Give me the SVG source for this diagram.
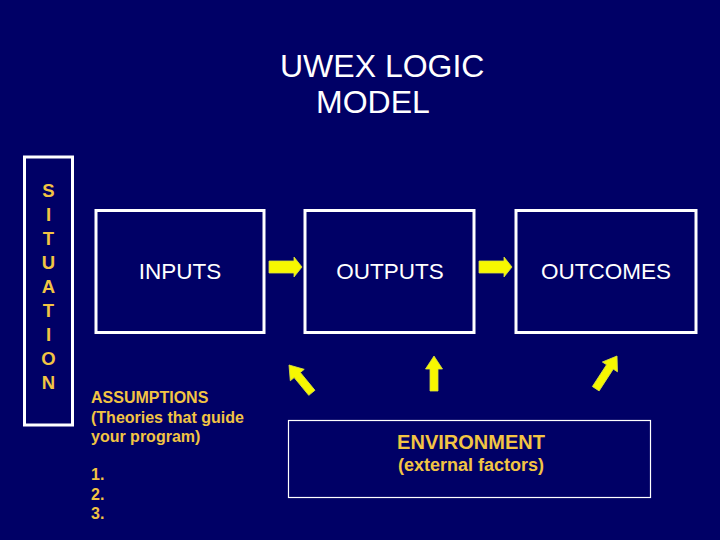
<svg xmlns="http://www.w3.org/2000/svg" width="720" height="540" viewBox="0 0 720 540">
<defs>
<style>
.box{fill:none;stroke:#ffffff;stroke-width:3}
.env{fill:none;stroke:#ffffff;stroke-width:1.2}
.w{font-family:"Liberation Sans",Arial,sans-serif;fill:#ffffff}
.y{font-family:"Liberation Sans",Arial,sans-serif;fill:#f2c443;font-weight:bold}
.arr{fill:#f7f700;stroke:#d8e040;stroke-width:0.8}
</style>
</defs>
<rect width="720" height="540" fill="#000066"/>
<g id="title">
<text class="w" x="280" y="77" font-size="32">UWEX LOGIC</text>
<text class="w" x="316" y="113" font-size="32">MODEL</text>
</g>
<g id="situation">
<rect class="box" x="24.5" y="157" width="48" height="268"/>
<g class="y" font-size="18.5" text-anchor="middle">
<text x="48.5" y="197">S</text>
<text x="48.5" y="221">I</text>
<text x="48.5" y="245">T</text>
<text x="48.5" y="269">U</text>
<text x="48.5" y="293">A</text>
<text x="48.5" y="317">T</text>
<text x="48.5" y="341">I</text>
<text x="48.5" y="365">O</text>
<text x="48.5" y="389">N</text>
</g>
</g>
<g id="inputs">
<rect class="box" x="96" y="210.5" width="168" height="122"/>
<text class="w" x="180" y="279" font-size="22.5" text-anchor="middle">INPUTS</text>
</g>
<g id="outputs">
<rect class="box" x="305" y="210.5" width="169" height="122"/>
<text class="w" x="390" y="279" font-size="22.5" text-anchor="middle">OUTPUTS</text>
</g>
<g id="outcomes">
<rect class="box" x="516" y="210.5" width="180" height="122"/>
<text class="w" x="606" y="279" font-size="22.5" text-anchor="middle">OUTCOMES</text>
</g>
<g id="assumptions" class="y" font-size="16">
<text x="91" y="403">ASSUMPTIONS</text>
<text x="91" y="422.5">(Theories that guide</text>
<text x="91" y="442">your program)</text>
<text x="91" y="480">1.</text>
<text x="91" y="499.5">2.</text>
<text x="91" y="519">3.</text>
</g>
<g id="environment">
<rect class="env" x="288.5" y="420.5" width="362" height="77"/>
<text class="y" x="471" y="449" font-size="20" text-anchor="middle">ENVIRONMENT</text>
<text class="y" x="471" y="471" font-size="18" text-anchor="middle">(external factors)</text>
</g>
<g id="connectors">
<path class="arr" d="M0,0 L-8,-10 L-8,-6 L-33,-6 L-33,6 L-8,6 L-8,10 Z" transform="translate(302,267)"/>
<path class="arr" d="M0,0 L-8,-10 L-8,-6 L-33,-6 L-33,6 L-8,6 L-8,10 Z" transform="translate(512,267)"/>
<path class="arr" d="M0,0 L-13,-9 L-13,-4 L-36,-4 L-36,4 L-13,4 L-13,9 Z" transform="translate(289,365) rotate(-129.4)"/>
<path class="arr" d="M0,0 L-13,-8.5 L-13,-4 L-35,-4 L-35,4 L-13,4 L-13,8.5 Z" transform="translate(434,356) rotate(-90)"/>
<path class="arr" d="M0,0 L-13,-9 L-13,-4 L-39,-4 L-39,4 L-13,4 L-13,9 Z" transform="translate(617,356) rotate(-57)"/>
</g>
</svg>
